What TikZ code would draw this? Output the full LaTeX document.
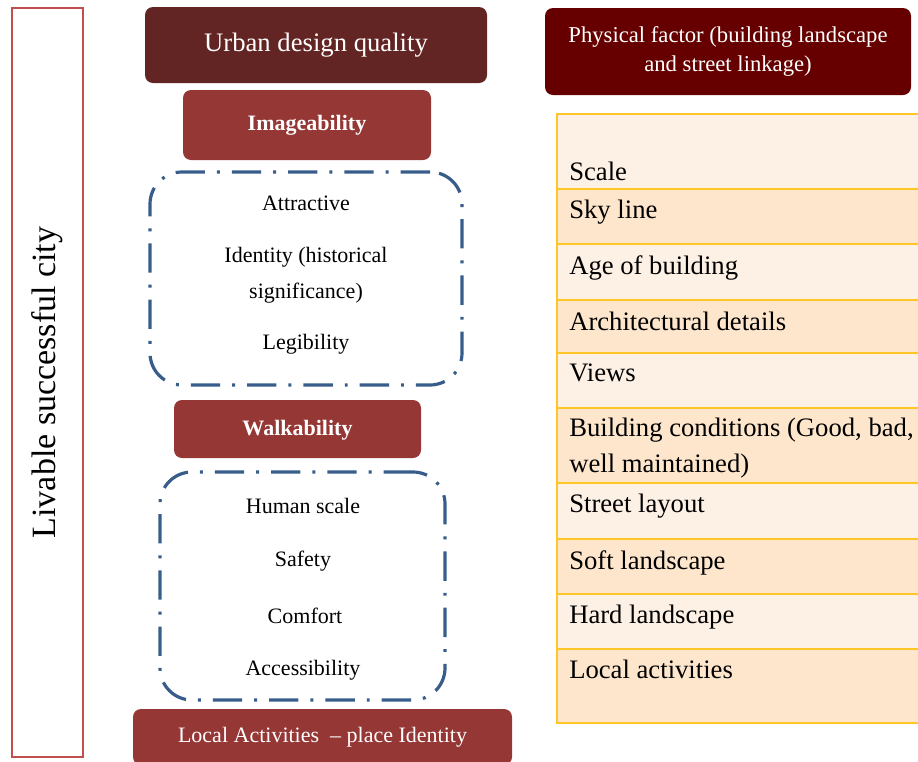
\documentclass[tikz,border=0pt]{standalone}
\usepackage{fontspec}
\setmainfont{Liberation Serif}
\usepackage{xcolor}

\definecolor{cityborder}{RGB}{192,80,77}
\definecolor{urbanfill}{RGB}{99,37,35}
\definecolor{itemfill}{RGB}{149,55,53}
\definecolor{physfill}{RGB}{102,0,0}
\definecolor{dashblue}{RGB}{56,93,138}
\definecolor{rowgold}{RGB}{255,198,40}
\definecolor{rowlight}{RGB}{253,241,229}
\definecolor{rowdark}{RGB}{253,230,204}

\begin{document}
\begin{tikzpicture}[x=0.75pt, y=-0.75pt,
    headbox/.style={rounded corners=6pt, text=white, align=center, inner sep=0pt},
    itembox/.style={headbox, fill=itemfill, font=\bfseries\fontsize{16.5}{20}\selectfont},
    dashbox/.style={draw=dashblue, line width=2.4pt, dash pattern=on 22pt off 9pt on 2.2pt off 9pt, rounded corners=24pt, inner sep=0pt},
    listtext/.style={font=\fontsize{16.5}{27}\selectfont, align=center, inner sep=0pt},
    rowcell/.style={draw=rowgold, line width=0.9pt},
    rowtext/.style={font=\fontsize{20}{27}\selectfont, align=left, anchor=north west, inner sep=0pt}
]
    \useasboundingbox (0,0) rectangle (918,761);
    \clip (0,0) rectangle (918,761);

    % Left frame
    \node[draw=cityborder, line width=2pt, rotate=90, minimum width=561.75pt, minimum height=53.25pt,
          font=\fontsize{25.5}{30}\selectfont] (city) at (47.5,382.5) {Livable successful city};

    % Middle column
    \node[headbox, fill=urbanfill, minimum width=256.5pt, minimum height=57pt,
          font=\fontsize{20}{24}\selectfont] (urban) at (316,45) {Urban design quality};
    \node[itembox, minimum width=186pt, minimum height=52.5pt] (image) at (307,125) {Imageability};

    \node[dashbox, minimum width=234pt, minimum height=159.75pt] (imagelist) at (306,278.5) {};
    \node[listtext] (attractive) at (306,203) {Attractive};
    \node[listtext] (identity) at (306,275) {Identity (historical\\ significance)};
    \node[listtext] (legibility) at (306,344) {Legibility};

    \node[itembox, minimum width=185.25pt, minimum height=43.5pt, text depth=2pt] (walk) at (297.5,429) {Walkability};

    \node[dashbox, minimum width=213.75pt, minimum height=171pt] (walklist) at (302.5,586) {};
    \node[listtext] (human) at (303,506) {Human scale};
    \node[listtext] (safety) at (303,561) {Safety};
    \node[listtext] (comfort) at (305,616) {Comfort};
    \node[listtext] (access) at (303,670) {Accessibility};

    \node[headbox, fill=itemfill, minimum width=284.25pt, minimum height=42pt,
          font=\fontsize{16.5}{20}\selectfont] (local) at (322.5,737) {Local Activities \ – place Identity};

    % Right column
    \node[headbox, fill=physfill, minimum width=274.5pt, minimum height=65.25pt,
          font=\fontsize{17}{22}\selectfont] (physical) at (728,51.5) {Physical factor (building landscape\\ and street linkage)};

    \foreach \top/\bot/\shade/\ty/\txt [count=\i] in {
        114/189/rowlight/162/Scale,
        189/244/rowdark/200/Sky line,
        244/300/rowlight/255/Age of building,
        300/353/rowdark/312/Architectural details,
        353/408/rowlight/364/Views,
        408/483/rowdark/418/{Building conditions (Good, bad,\\ well maintained)},
        483/539/rowlight/494/Street layout,
        539/594/rowdark/550/Soft landscape,
        594/649/rowlight/605/Hard landscape,
        649/723/rowdark/660/Local activities}
    {
        \draw[rowcell, fill=\shade] (557,\top) rectangle (930,\bot);
        \node[rowtext] (row\i) at (569,\ty) {\txt};
    }
\end{tikzpicture}
\end{document}
